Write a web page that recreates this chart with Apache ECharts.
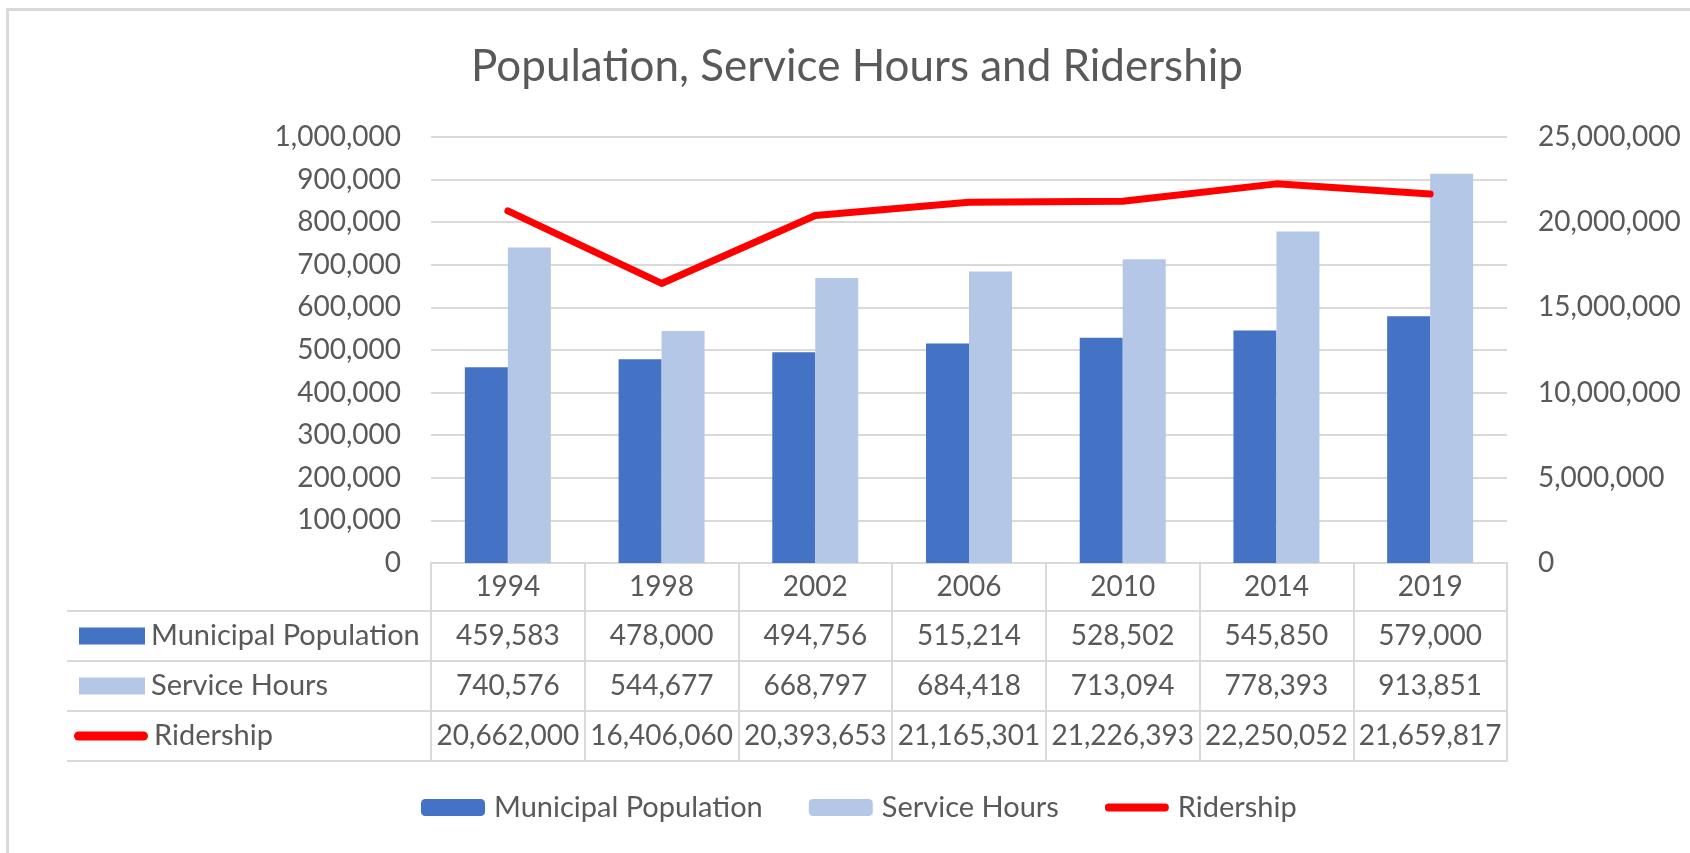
<!DOCTYPE html>
<html lang="en">
<head>
    <meta charset="UTF-8">
    <title>Population, Service Hours and Ridership</title>
    <script type="text/javascript" src="https://cdn.jsdelivr.net/npm/echarts@6/dist/echarts.min.js"></script>
    <style>
        html, body { margin: 0; padding: 0; background: #fff; }
        #main { width: 1690px; height: 853px; }
        #frame { position: absolute; left: 6px; top: 8px; width: 1700px; height: 900px;
                 border-left: 3px solid #d9d9d9; border-top: 3px solid #d9d9d9; pointer-events: none; }
    </style>
</head>
<body>
<div id="main"></div>
<div id="frame"></div>
<script>
    // data
    var years = ['1994', '1998', '2002', '2006', '2010', '2014', '2019'];
    var population = [459583, 478000, 494756, 515214, 528502, 545850, 579000];
    var serviceHours = [740576, 544677, 668797, 684418, 713094, 778393, 913851];
    var ridership = [20662000, 16406060, 20393653, 21165301, 21226393, 22250052, 21659817];
    var seriesNames = ['Municipal Population', 'Service Hours', 'Ridership'];

    var gray = '#d9d9d9';
    var textColor = '#595959';
    var font = 'Lato';
    var numSize = 28;   // numbers in axes and table
    var nameSize = 29;  // series names

    function fmt(v) {
        return Number(v).toLocaleString('en-US');
    }

    // cells of the data table: [column, row, value]
    var tableRows = [population, serviceHours, ridership];
    var tableCells = [];
    tableRows.forEach(function (row, r) {
        row.forEach(function (v, c) {
            tableCells.push([c, r, v]);
        });
    });

    var myChart = echarts.init(document.getElementById('main'));
    var option = {
        animation: false,
        textStyle: { fontFamily: font },
        title: {
            text: 'Population, Service Hours and Ridership',
            left: 852,
            textAlign: 'center',
            top: 40,
            textStyle: { color: textColor, fontSize: 44, fontWeight: 'normal', fontFamily: font }
        },
        legend: {
            data: [
                'Municipal Population',
                'Service Hours',
                // thick red bar like the line in the table
                { name: 'Ridership', icon: 'path://M4.5,0 H69.5 A4.5,4.5 0 0 1 69.5,9 H4.5 A4.5,4.5 0 0 1 4.5,0 Z' }
            ],
            left: 416,
            top: 788,
            itemWidth: 64,
            itemHeight: 17,
            itemGap: 46,
            textStyle: { color: textColor, fontSize: nameSize, fontFamily: font, padding: [0, 0, 0, 4] }
        },
        grid: [
            { left: 431, top: 137, width: 1076, height: 426 },
            { left: 431, top: 611, width: 1076, height: 150 }
        ],
        xAxis: [
            {
                type: 'category',
                gridIndex: 0,
                data: years,
                axisLine: { lineStyle: { color: gray, width: 2 } },
                axisTick: { show: true, length: 48, lineStyle: { color: gray, width: 2 } },
                axisLabel: { color: textColor, fontSize: numSize, margin: 10, fontFamily: font }
            },
            {
                type: 'category',
                gridIndex: 1,
                data: years,
                axisLine: { show: true, lineStyle: { color: gray, width: 2 } },
                axisTick: { show: false },
                axisLabel: { show: false },
                splitLine: { show: true, lineStyle: { color: gray, width: 2 } }
            }
        ],
        yAxis: [
            {
                type: 'value',
                gridIndex: 0,
                min: 0,
                max: 1000000,
                interval: 100000,
                axisLabel: { color: textColor, fontSize: numSize, margin: 30, formatter: fmt, fontFamily: font },
                splitLine: { lineStyle: { color: gray, width: 2 } }
            },
            {
                type: 'value',
                gridIndex: 0,
                position: 'right',
                min: 0,
                max: 25000000,
                interval: 5000000,
                axisLabel: { color: textColor, fontSize: numSize, margin: 31, formatter: fmt, fontFamily: font },
                splitLine: { show: false }
            },
            {
                type: 'category',
                gridIndex: 1,
                inverse: true,
                data: seriesNames,
                axisLine: { show: true, lineStyle: { color: gray, width: 2 } },
                axisTick: { show: true, length: 364, lineStyle: { color: gray, width: 2 } },
                splitLine: { show: true, lineStyle: { color: gray, width: 2 } },
                axisLabel: {
                    margin: 357,
                    align: 'left',
                    formatter: function (v, i) {
                        var icon = ['a', 'b', 'c'][i];
                        return (i < 2 ? '{sp|}' : '') + '{' + icon + '|}{t|' + v + '}';
                    },
                    rich: {
                        sp: { width: 5 },
                        a: { width: 66, height: 17, backgroundColor: '#4472C4' },
                        b: { width: 66, height: 17, backgroundColor: '#B4C7E7' },
                        c: { width: 74, height: 9, backgroundColor: '#FF0000', borderRadius: 5 },
                        t: { color: textColor, fontSize: nameSize, fontFamily: font, padding: [0, 0, 0, 6] }
                    }
                }
            },
            {
                type: 'category',
                gridIndex: 1,
                data: seriesNames,
                offset: 364,
                axisLine: { show: true, lineStyle: { color: gray, width: 2 } },
                axisTick: { show: false },
                axisLabel: { show: false }
            }
        ],
        series: [
            {
                name: 'Municipal Population',
                type: 'bar',
                xAxisIndex: 0,
                yAxisIndex: 0,
                data: population,
                barWidth: 43,
                barGap: '0%',
                itemStyle: { color: '#4472C4' }
            },
            {
                name: 'Service Hours',
                type: 'bar',
                xAxisIndex: 0,
                yAxisIndex: 0,
                data: serviceHours,
                barWidth: 43,
                barGap: '0%',
                itemStyle: { color: '#B4C7E7' }
            },
            {
                name: 'Ridership',
                type: 'line',
                xAxisIndex: 0,
                yAxisIndex: 1,
                data: ridership,
                symbol: 'none',
                lineStyle: { color: '#FF0000', width: 7, cap: 'round', join: 'round' },
                itemStyle: { color: '#FF0000' }
            },
            {
                name: 'table',
                type: 'heatmap',
                xAxisIndex: 1,
                yAxisIndex: 2,
                data: tableCells,
                itemStyle: { color: 'rgba(0,0,0,0)' },
                label: {
                    show: true,
                    color: textColor,
                    fontSize: numSize,
                    fontFamily: font,
                    formatter: function (p) { return fmt(p.value[2]); }
                },
                emphasis: { disabled: true }
            }
        ]
    };
    myChart.setOption(option);
</script>
</body>
</html>
